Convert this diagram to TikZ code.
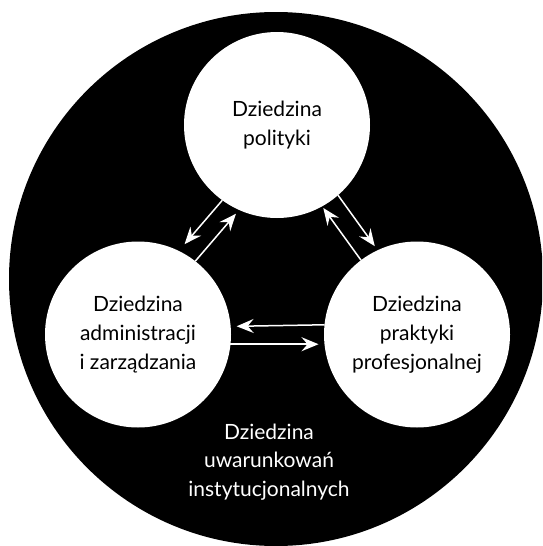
\documentclass[tikz,border=0pt]{standalone}
\usepackage{fontspec}
\setmainfont{Lato}
\usetikzlibrary{arrows.meta}
\tikzset{
  dombox/.style={circle, fill=white, draw=none, outer sep=0pt, minimum size=186pt, inner sep=0pt,
    align=center, text=black, font=\fontsize{21}{28.8}\selectfont},
  link/.style={draw=white, line width=1.5pt, -{Stealth[length=17pt,width=14pt,inset=6pt]}, shorten >=5pt}
}
\begin{document}
\begin{tikzpicture}[x=1pt,y=-1pt]
\useasboundingbox (0,0) rectangle (542,546);
\clip (0,0) rectangle (542,546);
\fill[black] (276,279) circle[radius=267];
\node[dombox] (pol) at (277,125) {Dziedzina\\polityki};
\node[dombox] (adm) at (138,334.5) {Dziedzina\\administracji\\i zarządzania};
\node[dombox] (pro) at (417,334.5) {Dziedzina\\praktyki\\profesjonalnej};
\node[align=center, text=white, font=\fontsize{21}{28.8}\selectfont] (inst) at (269,462) {Dziedzina\\uwarunkowań\\instytucjonalnych};
\draw[link, shorten >=9pt] (pol.234.5) -- (adm.64);
\draw[link] (adm.52.4) -- (pol.246);
\draw[link] (pol.311) -- (pro.115);
\draw[link, shorten >=2pt] (pro.127.6) -- (pol.299.5);
\draw[link, shorten >=6pt] (pro.174.8) -- (adm.5.2);
\draw[link, shorten >=6pt] (adm.-6.4) -- (pro.186.4);
\end{tikzpicture}
\end{document}
